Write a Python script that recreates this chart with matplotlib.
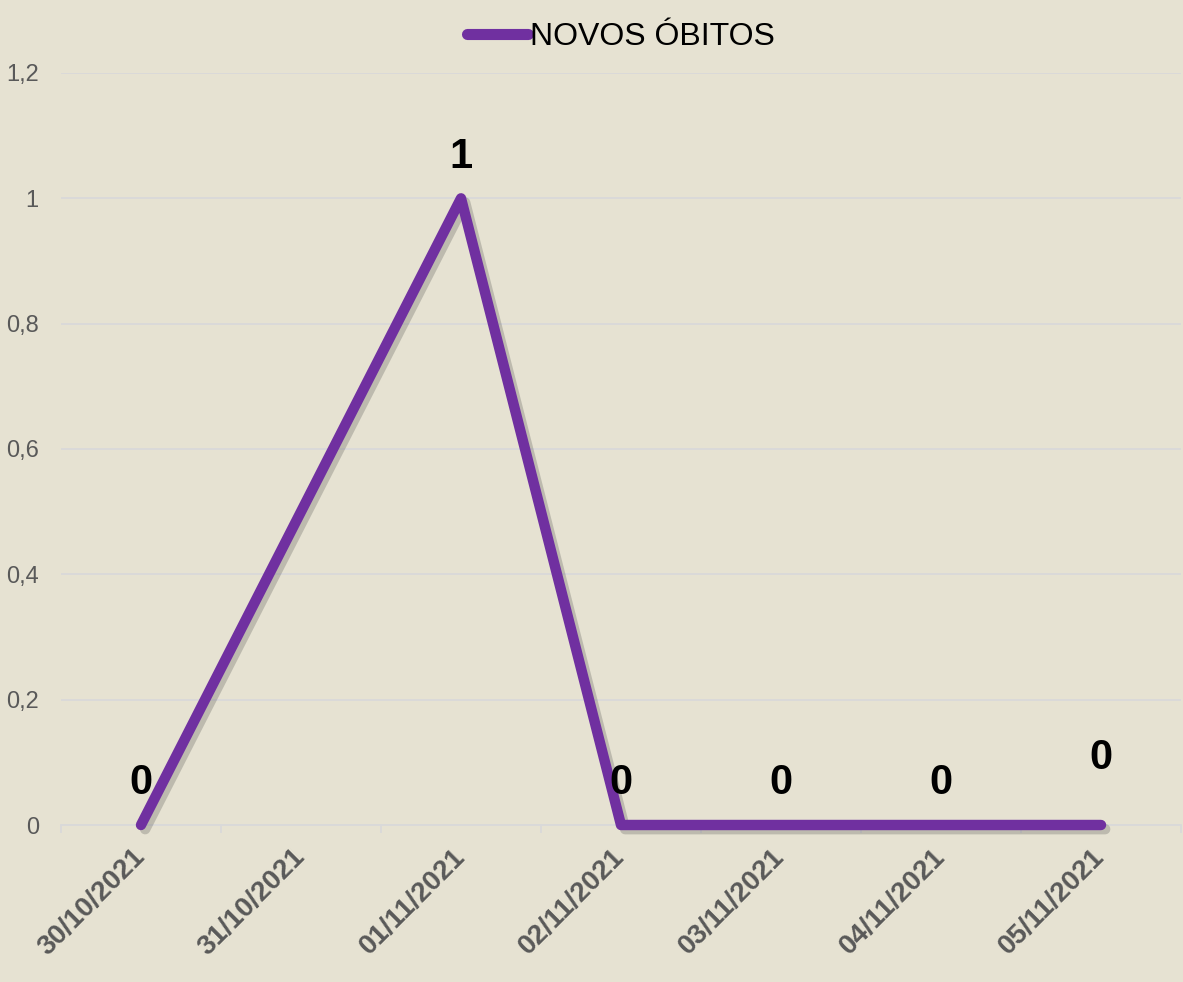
import numpy as np
import matplotlib.pyplot as plt
import matplotlib.patheffects as pe

plt.rcParams['font.family'] = ['Liberation Sans', 'DejaVu Sans']

dates = ['30/10/2021', '31/10/2021', '01/11/2021', '02/11/2021',
         '03/11/2021', '04/11/2021', '05/11/2021']
novos_obitos = [0, None, 1, 0, 0, 0, 0]
series_name = 'NOVOS ÓBITOS'

bg = '#E6E2D2'
purple = '#7030A0'
grid_col = '#D9D9D9'
tick_col = '#595959'

fig = plt.figure(figsize=(11.83, 9.82), dpi=100, facecolor=bg)
ax = fig.add_axes([61 / 1183, 1 - 825 / 982, 1120 / 1183, 752 / 982])
ax.set_facecolor(bg)

x = np.arange(len(dates))
valid = [i for i, v in enumerate(novos_obitos) if v is not None]
xs = [x[i] for i in valid]
ys = [novos_obitos[i] for i in valid]

shadow = [pe.SimpleLineShadow(offset=(3, -3), alpha=0.25, shadow_color='#444444'), pe.Normal()]
line, = ax.plot(xs, ys, color=purple, linewidth=7.5, solid_capstyle='round',
                solid_joinstyle='round', label=series_name, zorder=3,
                path_effects=shadow, clip_on=False)

# data labels
for i in valid:
    off = 30 if i != len(dates) - 1 else 48
    ax.annotate(str(novos_obitos[i]), (x[i], novos_obitos[i]), xytext=(0, off),
                textcoords='offset points', ha='center', va='center',
                fontsize=30, fontweight='bold', color='black', zorder=4)

ax.set_xlim(-0.5, len(dates) - 0.5)
ax.set_ylim(0, 1.2)
ax.set_yticks(np.arange(0, 1.21, 0.2))
ax.set_yticklabels(['0', '0,2', '0,4', '0,6', '0,8', '1', '1,2'])
ax.yaxis.grid(True, color=grid_col, linewidth=1.3)
ax.set_axisbelow(True)

ax.set_xticks(x)
ax.set_xticklabels(dates, rotation=45, ha='right', va='center',
                   rotation_mode='anchor', fontsize=20, fontweight='bold', color=tick_col)
ax.set_xticks(np.arange(-0.5, len(dates), 1), minor=True)
ax.tick_params(axis='x', which='major', length=0, pad=20)
ax.tick_params(axis='x', which='minor', length=6, color=grid_col, width=1.3)
ax.tick_params(axis='y', length=0, labelsize=17, labelcolor=tick_col, pad=16)

for s in ['top', 'right', 'left']:
    ax.spines[s].set_visible(False)
ax.spines['bottom'].set_color(grid_col)
ax.spines['bottom'].set_linewidth(1.3)

leg = ax.legend(loc='center', bbox_to_anchor=(0.5, 1 + 36 / 752), frameon=False,
                fontsize=23, handlelength=1.9, handletextpad=0.05)
for h in leg.get_lines():
    h.set_linewidth(8)
    h.set_path_effects([])

fig.savefig('out.png', dpi=100, facecolor=bg)
